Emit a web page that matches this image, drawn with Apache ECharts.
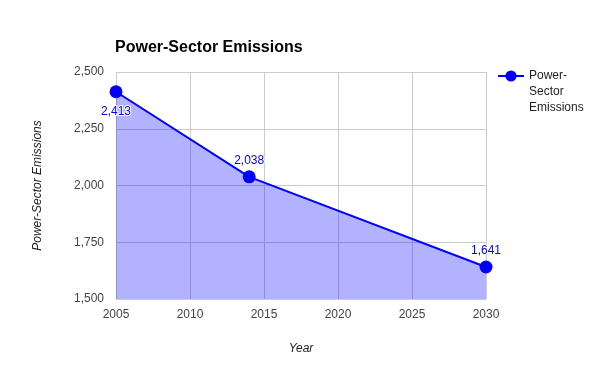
<!DOCTYPE html>
<html><head><meta charset="utf-8">
<script src="https://cdn.jsdelivr.net/npm/echarts@6/dist/echarts.min.js"></script>
<style>html,body{margin:0;padding:0;background:#fff}#c{width:600px;height:371px}</style>
</head><body><div id="c"></div>
<script>
const years = [2005, 2014, 2030];
const emissions = [2413, 2038, 1641];
const seriesName = 'Power-Sector Emissions';
const xTicks = {min: 2005, max: 2030, interval: 5};
const yTicks = {min: 1500, max: 2500, interval: 250};

const font = 'Liberation Sans, Arial, sans-serif';
const chart = echarts.init(document.getElementById('c'));
chart.setOption({
  animation: false,
  title: {text: 'Power-Sector Emissions', left: 110, top: 35,
    textStyle: {fontFamily: font, fontSize: 16, fontWeight: 'bold', color: '#000'}},
  legend: {left: 492, top: 31, itemWidth: 26, itemHeight: 14, itemGap: 5,
    formatter: () => '\n\nPower-\nSector\nEmissions',
    textStyle: {fontFamily: font, fontSize: 12, color: '#222', lineHeight: 16}},
  grid: {left: 116, right: 114, top: 72, bottom: 72, containLabel: false},
  xAxis: {type: 'value', min: xTicks.min, max: xTicks.max, interval: xTicks.interval,
    name: 'Year', nameLocation: 'middle', nameGap: 44,
    nameTextStyle: {fontFamily: font, fontSize: 12, fontStyle: 'italic', color: '#222'},
    axisLine: {show: false}, axisTick: {show: false},
    axisLabel: {fontFamily: font, fontSize: 12, color: '#444', margin: 10, formatter: v => String(v)},
    splitLine: {show: true, lineStyle: {color: '#ccc', width: 1}}},
  yAxis: {type: 'value', min: yTicks.min, max: yTicks.max, interval: yTicks.interval,
    name: 'Power-Sector Emissions', nameLocation: 'middle', nameGap: 72,
    nameTextStyle: {fontFamily: font, fontSize: 12, fontStyle: 'italic', color: '#222'},
    axisLine: {show: false}, axisTick: {show: false},
    axisLabel: {fontFamily: font, fontSize: 12, color: '#444', margin: 12,
      formatter: v => v.toLocaleString('en-US')},
    splitLine: {show: true, lineStyle: {color: '#ccc', width: 1}}},
  series: [{
    name: seriesName, type: 'line',
    data: years.map((y, i) => ({value: [y, emissions[i]],
      label: i === 0 ? {position: 'bottom', distance: 7} : {position: 'top'}})),
    symbol: 'circle', symbolSize: 13,
    itemStyle: {color: '#0000ff'},
    lineStyle: {color: '#0000ff', width: 2},
    areaStyle: {color: '#0000ff', opacity: 0.3, origin: 'start'},
    label: {show: true, fontFamily: font, fontSize: 12, color: '#0000ff',
      textBorderColor: '#fff', textBorderWidth: 2, distance: 4,
      formatter: p => p.value[1].toLocaleString('en-US')}
  }]
});
</script></body></html>
